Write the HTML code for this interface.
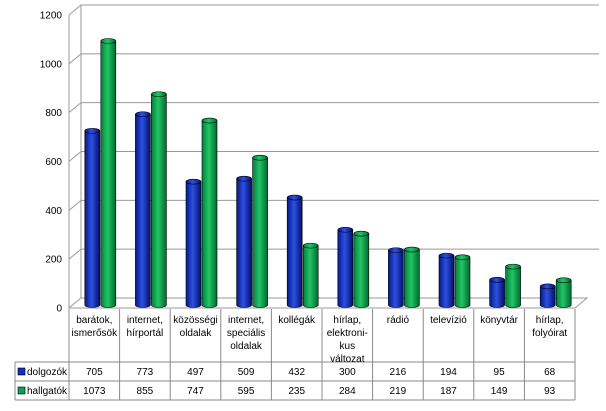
<!DOCTYPE html>
<html><head><meta charset="utf-8"><style>
body{margin:0;background:#fff;}
svg text{font-family:"Liberation Sans",sans-serif;font-size:10px;fill:#000;}
</style></head><body>
<svg width="606" height="406" xmlns="http://www.w3.org/2000/svg">
<defs>
<linearGradient id="gb" x1="0" x2="1"><stop offset="0" stop-color="#001a8c"/><stop offset="0.45" stop-color="#2f4fe0"/><stop offset="1" stop-color="#00106a"/></linearGradient>
<linearGradient id="gg" x1="0" x2="1"><stop offset="0" stop-color="#00803a"/><stop offset="0.45" stop-color="#22c465"/><stop offset="1" stop-color="#006a30"/></linearGradient>
</defs>
<g id="grid"></g><g id="bars"></g><g id="table"></g>
</svg>
<script>
const categories=[["barátok,","ismerősök"],["internet,","hírportál"],["közösségi","oldalak"],["internet,","speciális","oldalak"],["kollégák"],["hírlap,","elektroni-","kus","változat"],["rádió"],["televízió"],["könyvtár"],["hírlap,","folyóirat"]];
const dolgozok=[705,773,497,509,432,300,216,194,95,68];
const hallgatok=[1073,855,747,595,235,284,219,187,149,93];
const ticks=[0,200,400,600,800,1000,1200];
const NS="http://www.w3.org/2000/svg";
function mk(p,t,a){const e=document.createElementNS(NS,t);for(const k in a)e.setAttribute(k,a[k]);p.appendChild(e);return e;}
const x0=69,x1=575,dx=12,dy=-10,y0=308,k=293/1200;
const yF=v=>y0-v*k;
const cw=(x1-x0)/categories.length;
const grid=document.getElementById('grid');
mk(grid,'polygon',{points:`${x0},${y0} ${x0+dx},${y0+dy} ${x1+dx},${y0+dy} ${x1},${y0}`,fill:'none',stroke:'#999'});
mk(grid,'line',{x1:x0+dx,y1:yF(0)+dy,x2:x0+dx,y2:yF(1200)+dy,stroke:'#999'});
mk(grid,'line',{x1:x0,y1:yF(0),x2:x0,y2:yF(1200),stroke:'#999'});
ticks.forEach(t=>{
 const y=yF(t);
 if(t>0){const l=mk(grid,'polyline',{points:`${x0},${y} ${x0+dx},${y+dy} ${x1+dx+12},${y+dy}`,fill:'none',stroke:'#999'});
 
 }
 const tx=mk(grid,'text',{x:x0-7,y:y+3.5,'text-anchor':'end'});tx.textContent=t;
 
 
});
const bars=document.getElementById('bars');
function cyl(cx,v,fill,name){
 const w=15,yt=yF(v)-5,yb=y0-3;
 const g=mk(bars,'g',{});
 
 
 mk(g,'path',{d:`M${cx-w/2},${yt} L${cx-w/2},${yb} A${w/2},2.5 0 0 0 ${cx+w/2},${yb} L${cx+w/2},${yt}`,fill:fill,stroke:'#000','stroke-width':0.6});
 mk(g,'ellipse',{cx:cx,cy:yt,rx:w/2,ry:2.5,fill:fill,stroke:'#000','stroke-width':0.6});
}
categories.forEach((c,i)=>{
 const cx=x0+cw*(i+0.5);
 cyl(cx-2,dolgozok[i],'url(#gb)','bar-dolgozok');
 cyl(cx+14,hallgatok[i],'url(#gg)','bar-hallgatok');
});
const tb=document.getElementById('table');
const r0=309,r1=362,r2=381,r3=400,lx=15;
mk(tb,'line',{x1:lx,y1:r1,x2:x1,y2:r1,stroke:'#888'});
mk(tb,'line',{x1:lx,y1:r2,x2:x1,y2:r2,stroke:'#888'});
mk(tb,'line',{x1:lx,y1:r3,x2:x1,y2:r3,stroke:'#888'});
mk(tb,'line',{x1:lx,y1:r1,x2:lx,y2:r3,stroke:'#888'});
for(let i=0;i<=categories.length;i++){const x=x0+cw*i;mk(tb,'line',{x1:x,y1:r0,x2:x,y2:r3,stroke:'#888'});}
categories.forEach((c,i)=>{
 const cx=x0+cw*(i+0.5);
 c.forEach((s,j)=>{const t=mk(tb,'text',{x:cx,y:r0+14+j*13,'text-anchor':'middle'});t.textContent=s;
 
 });
 const a=mk(tb,'text',{x:cx,y:r1+13,'text-anchor':'middle'});a.textContent=dolgozok[i];
 
 
 const b=mk(tb,'text',{x:cx,y:r2+13,'text-anchor':'middle'});b.textContent=hallgatok[i];
 
 
});
[['dolgozók','#1030c8',r1],['hallgatók','#10a050',r2]].forEach(([n,c,y])=>{
 const g=mk(tb,'g',{});
 
 
 mk(g,'rect',{x:lx+3,y:y+6,width:7,height:7,fill:c,stroke:'#000','stroke-width':0.6});
 const t=mk(g,'text',{x:lx+12,y:y+13});t.textContent=n;
});
</script>
</body></html>
